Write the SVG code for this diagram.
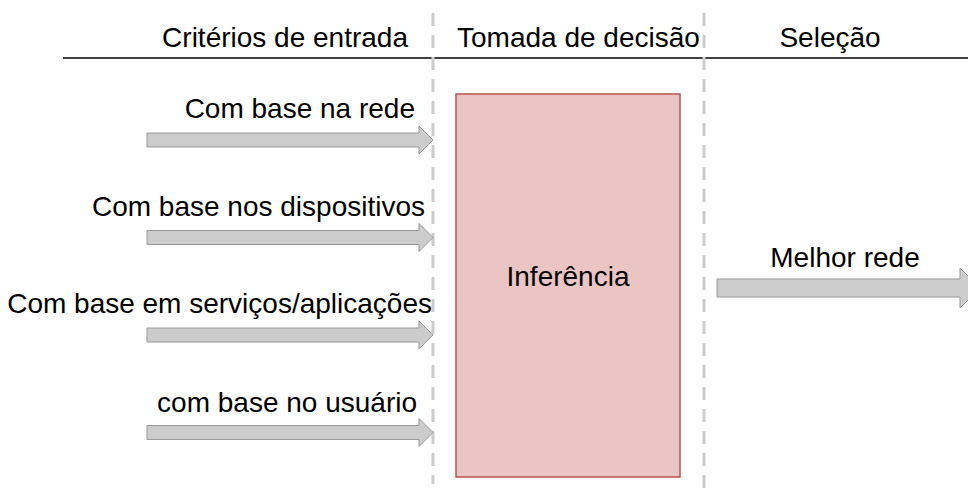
<svg xmlns="http://www.w3.org/2000/svg" width="968" height="491" viewBox="0 0 968 491">
<style>
text{font-family:"Liberation Sans",Arial,sans-serif;font-size:28px;fill:#000}
.arrow{fill:#cccccc;stroke:#999999;stroke-width:1}
.dash{stroke:#cccccc;stroke-width:3;stroke-dasharray:13 9;fill:none}
</style>
<rect width="968" height="491" fill="#ffffff"/>
<g id="headers">
<text x="408" y="47" text-anchor="end">Critérios de entrada</text>
<text x="457" y="47">Tomada de decisão</text>
<text x="830" y="47" text-anchor="middle">Seleção</text>
<line x1="63" y1="58" x2="968" y2="58" stroke="#000" stroke-width="1.5"/>
</g>
<g id="dividers">
<line class="dash" x1="433" y1="13" x2="433" y2="484"/>
<line class="dash" x1="704" y1="13" x2="704" y2="491"/>
</g>
<g id="inferencia">
<rect x="456" y="94" width="224" height="383" fill="#ebc5c4" stroke="#b85450" stroke-width="1.5"/>
<text x="568" y="286" text-anchor="middle">Inferência</text>
</g>
<g id="label-rede"><text x="415" y="118" text-anchor="end">Com base na rede</text></g>
<g id="label-dispositivos"><text x="425" y="216" text-anchor="end">Com base nos dispositivos</text></g>
<g id="label-servicos"><text x="432" y="313" text-anchor="end">Com base em serviços/aplicações</text></g>
<g id="label-usuario"><text x="417" y="412" text-anchor="end">com base no usuário</text></g>
<g id="label-melhor"><text x="845" y="267" text-anchor="middle">Melhor rede</text></g>
<g id="connectors">
<path class="arrow" d="M147,133 H419 V126 L433,140 L419,154 V147 H147 Z"/>
<path class="arrow" d="M147,230.5 H419 V223.5 L433,237.5 L419,251.5 V244.5 H147 Z"/>
<path class="arrow" d="M147,328 H419 V321 L433,335 L419,349 V342 H147 Z"/>
<path class="arrow" d="M147,425.5 H419 V418.5 L433,432.5 L419,446.5 V439.5 H147 Z"/>
<path class="arrow" d="M717,279 H960 V268 L980,288 L960,308 V297 H717 Z"/>
</g>
</svg>
